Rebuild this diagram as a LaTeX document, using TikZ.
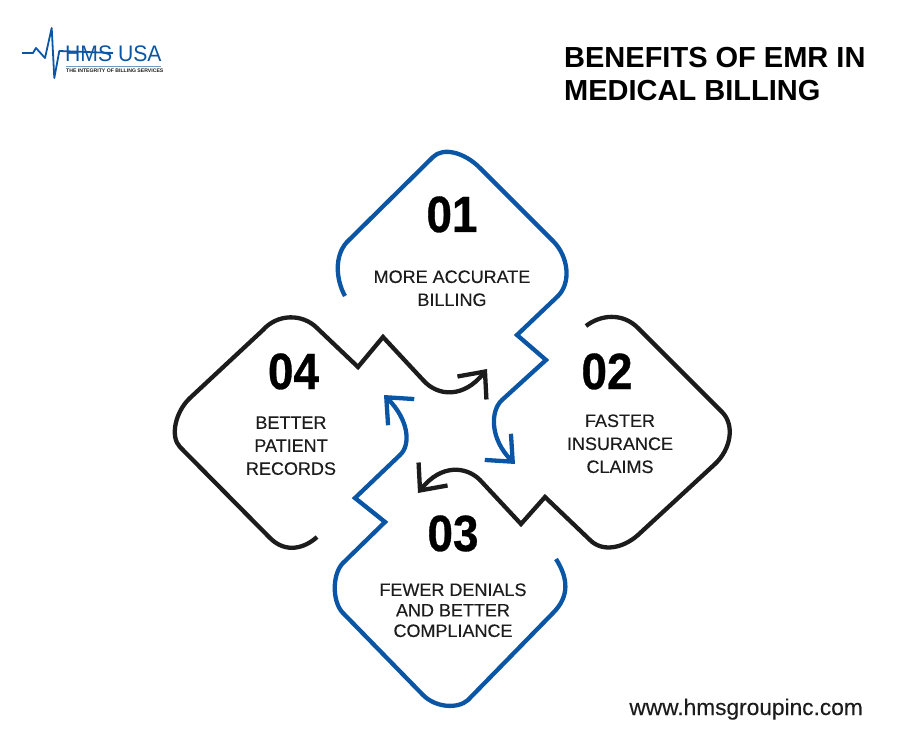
\documentclass[tikz,border=0pt]{standalone}
\usepackage{fontspec}
\setmainfont{Liberation Sans}
\newfontfamily\numfont[FakeStretch=0.9,FakeBold=0.6]{Liberation Sans Bold}
\newfontfamily\capfont[FakeBold=0.25]{Liberation Sans}
\newfontfamily\brandfont[FakeStretch=0.94]{Liberation Sans}
\usepackage{xcolor}
\usetikzlibrary{positioning,arrows.meta}
\definecolor{hmsblue}{HTML}{0B56A4}
\definecolor{hmsblack}{HTML}{1C1C1C}
\tikzset{
  ribbon/.style={line width=4.3pt,miter limit=10,>={Straight Barb[length=21pt,width=37pt]}},
  blueribbon/.style={ribbon,draw=hmsblue},
  blackribbon/.style={ribbon,draw=hmsblack},
  number/.style={font=\numfont\fontsize{51}{51}\selectfont,text=black,inner sep=0pt,text height=37pt,text depth=0pt},
  caption/.style={font=\capfont\fontsize{18}{23}\selectfont,text=hmsblack,align=center,inner sep=0pt},
  heading/.style={font=\bfseries\fontsize{29}{33}\selectfont,text=black,align=left,inner sep=0pt}
}
\begin{document}
\begin{tikzpicture}[x=1pt,y=-1pt]
  \useasboundingbox (0,0) rectangle (903,733);
  % logo
  \draw[hmsblue,line width=1.8pt,line join=round] (22,53) -- (33,53) -- (36,48) -- (45,58) -- (51.7,28) -- (54.3,78) -- (59.3,51) -- (113,53);
  \node[font=\brandfont\fontsize{22.5}{22.5}\selectfont,text=hmsblue,anchor=base west,inner sep=0pt] (brand) at (65,62) {HMS USA};
  \draw[hmsblue!60,line width=0.8pt] (66,66) -- (161,66);
  \node[font=\bfseries\fontsize{5.15}{6}\selectfont,text=hmsblack,anchor=base west,inner sep=0pt] (motto) at (66,73) {THE INTEGRITY OF BILLING SERVICES};
  % title and web address
  \node[heading,anchor=north west] (title) at (564,47) {BENEFITS OF EMR IN\\MEDICAL BILLING};
  \node[font=\capfont\fontsize{22.7}{22.7}\selectfont,text=hmsblack,anchor=base east,inner sep=0pt] (web) at (863,715) {www.hmsgroupinc.com};
  % the four ribbons
  \draw[blueribbon,->] (345,296) .. controls (336,280) and (334,256) .. (347,242) -- (433,157) .. controls (443,147) and (464,152) .. (480,168) -- (553,241) .. controls (569,257) and (571,283) .. (558,296) -- (517,335) -- (546,360) -- (502,400) .. controls (490,411) and (490,439) .. (515,464);
  \draw[blackribbon,->] (586,326) .. controls (600,315) and (622,312) .. (638,328) -- (722,412) .. controls (735,425) and (731,449) .. (715,464) -- (638,535) .. controls (622,549) and (602,552) .. (590,540) -- (545,497) -- (521,524) -- (480,480) .. controls (466,466) and (441,464) .. (418,493);
  \draw[blueribbon,->] (556,559) .. controls (568,578) and (570,596) .. (553,613) -- (468,700) .. controls (458,709) and (436,708) .. (423,695) -- (343,613) .. controls (332,602) and (332,574) .. (343,563) -- (385,522) -- (355,498) -- (400,455) .. controls (411,445) and (409,420) .. (384,395);
  \draw[blackribbon,->] (317,537) .. controls (305,548) and (286,554) .. (270,538) -- (180,447) .. controls (170,437) and (175,412) .. (190,398) -- (263,330) .. controls (277,314) and (302,313) .. (317,328) -- (358,367) -- (383,337) -- (423,380) .. controls (438,397) and (464,398) .. (487,369);
  % numbers and captions
  \node[number,anchor=base] (n1) at (452,232) {01};
  \node[caption,below=38pt of n1.south] (c1) {MORE ACCURATE\\BILLING};
  \node[number,anchor=base] (n2) at (607,389) {02};
  \node[caption,below=25pt of n2.south,xshift=13pt] (c2) {FASTER\\INSURANCE\\CLAIMS};
  \node[number,anchor=base] (n3) at (453,551) {03};
  \node[caption,below=32pt of n3.south,font=\capfont\fontsize{18}{20.5}\selectfont] (c3) {FEWER DENIALS\\AND BETTER\\COMPLIANCE};
  \node[number,anchor=base] (n4) at (293.5,389) {04};
  \node[caption,below=27pt of n4.south,xshift=-2.5pt] (c4) {BETTER\\PATIENT\\RECORDS};
\end{tikzpicture}
\end{document}
